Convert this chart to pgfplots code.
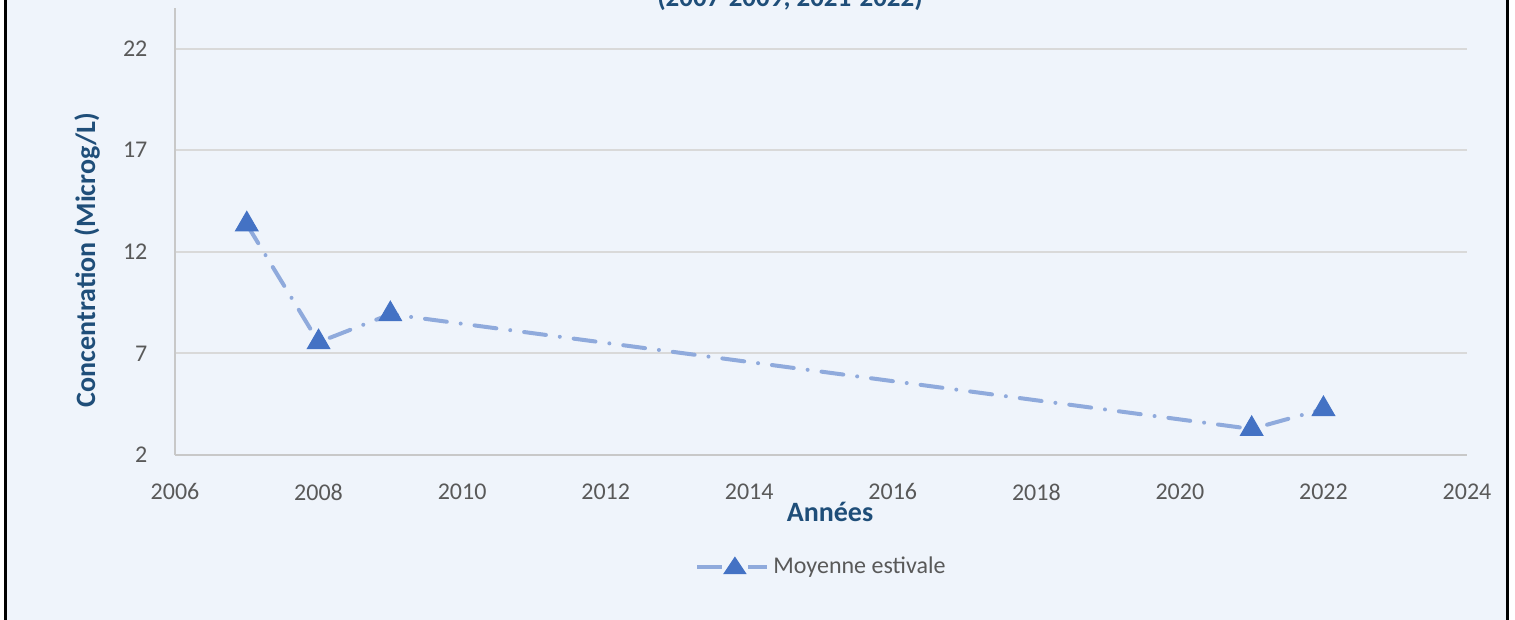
\documentclass[border=0pt]{standalone}
\usepackage{fontspec}
\setmainfont{Carlito}
\usepackage{pgfplots}
\pgfplotsset{compat=1.18}
\definecolor{bgblue}{RGB}{239,244,251}
\definecolor{titleblue}{RGB}{31,78,121}
\definecolor{tickgrey}{RGB}{89,89,89}
\definecolor{gridgrey}{RGB}{217,217,217}
\definecolor{axisgrey}{RGB}{200,200,200}
\definecolor{markblue}{RGB}{68,114,196}
\definecolor{lineblue}{RGB}{143,170,220}

\begin{document}
\begin{tikzpicture}
% page: 1515 x 620 px, 1 px = 0.5 pt
\useasboundingbox (0,0) rectangle (757.5pt,310pt);
\fill[white] (0,0) rectangle (757.5pt,310pt);
\fill[bgblue] (3.5pt,0) rectangle (753pt,310pt);
\draw[black, line width=1.5pt] (2.75pt,0) -- (2.75pt,310pt);
\draw[black, line width=1.5pt] (753.75pt,0) -- (753.75pt,310pt);

\begin{axis}[
  at={(87.5pt,82.5pt)}, anchor=south west,
  scale only axis, width=646pt, height=223.5pt,
  xmin=2006, xmax=2024, ymin=2, ymax=24,
  xtick={2006,2008,...,2024}, ytick={2,7,12,17,22},
  /pgf/number format/.cd, set thousands separator={}, assume math mode=true, /pgfplots/.cd,
  tick style={draw=none},
  ymajorgrids, grid style={gridgrey, line width=1pt},
  axis lines=left, axis line style={-, axisgrey, line width=1pt},
  tick label style={font=\fontsize{12}{14}\selectfont, text=tickgrey, inner sep=0pt},
  y tick label style={anchor=east, xshift=-11.5pt},
  x tick label style={anchor=north, yshift=-12pt},
  clip=false,
  legend style={at={(0.4025,-0.2506)}, anchor=west, draw=none, fill=none,
    inner sep=0pt, font=\fontsize{12}{14}\selectfont, text=tickgrey},
  legend image code/.code={
    \draw[lineblue, line width=2pt, solid, line cap=butt] (0pt,0pt) -- (12.5pt,0pt);
    \draw[lineblue, line width=2pt, solid, line cap=butt] (25.5pt,0pt) -- (35pt,0pt);
    \fill[markblue, solid] (14.75pt,-2.5pt) -- (22.75pt,-2.5pt) -- (18.75pt,3.5pt) -- cycle;
  },
]
\addplot[lineblue, line width=2pt, line cap=round,
  dash pattern=on 11pt off 7pt on 0pt off 7pt,
  mark=triangle*, mark size=6.5pt,
  mark options={solid, fill=markblue, draw=markblue, line width=0.5pt}]
  coordinates {
  (2007,13.35)
  (2008,7.55)
  (2009,8.93)
  (2021,3.28)
  (2022,4.26)
  };
\addlegendentry{Moyenne estivale}
\end{axis}

\node[anchor=base, font=\bfseries\fontsize{13.5}{16}\selectfont, text=titleblue]
  at (395pt,306.5pt) {(2007-2009, 2021-2022)};
\node[anchor=base, font=\bfseries\fontsize{14}{17}\selectfont, text=titleblue]
  at (415pt,49pt) {Années};
\node[anchor=base, rotate=90, font=\bfseries\fontsize{14}{17}\selectfont, text=titleblue]
  at (47.5pt,180pt) {Concentration (Microg/L)};
\end{tikzpicture}
\end{document}
